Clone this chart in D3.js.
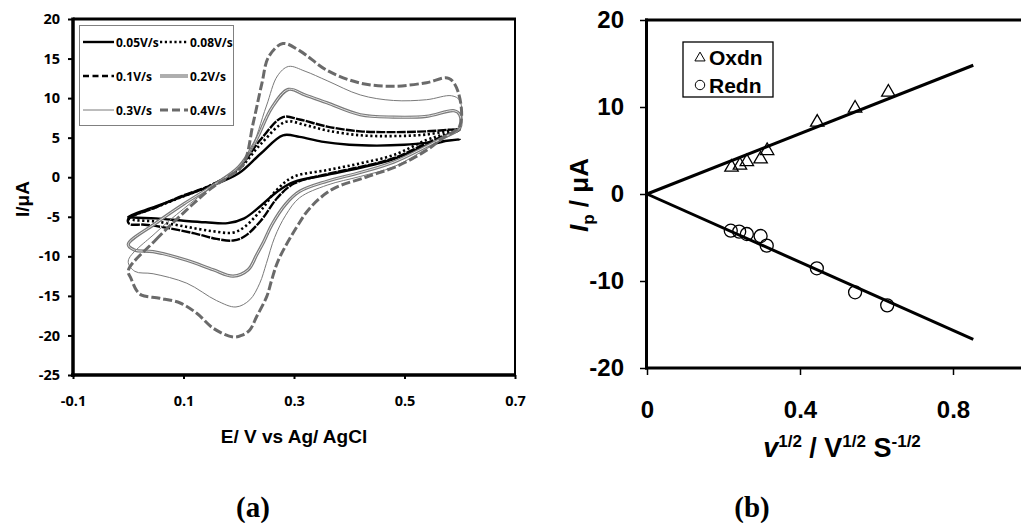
<!DOCTYPE html>
<html><head><meta charset="utf-8">
<script src="https://cdn.jsdelivr.net/npm/d3@7"></script>
<style>
html,body{margin:0;padding:0;background:#fff;}
svg{display:block;}
</style></head><body>
<svg id="fig" width="1021" height="523"></svg>
<script>
// ---------- Panel (a): cyclic voltammograms, [E (V), I (uA)] ----------
const scanRateLabels = ["0.05V/s", "0.08V/s", "0.1V/s", "0.2V/s", "0.3V/s", "0.4V/s"];

const cvForward005 = [[0,-5.0],[0.05,-3.7],[0.1,-2.4],[0.15,-1.1],[0.2,0.5],[0.24,3.0],[0.28,5.3],[0.31,5.1],[0.35,4.5],[0.4,4.1],[0.45,4.0],[0.5,4.1],[0.55,4.4],[0.6,4.8]];
const cvReverse005 = [[0.57,4.5],[0.54,4.0],[0.48,2.3],[0.42,1.2],[0.36,0.3],[0.3,-0.6],[0.27,-1.8],[0.24,-3.6],[0.21,-5.2],[0.18,-5.8],[0.14,-5.7],[0.1,-5.5],[0.05,-5.2],[0.01,-5.1]];

const cvForward008 = [[0,-5.2],[0.05,-3.8],[0.1,-2.4],[0.15,-1.0],[0.2,1.0],[0.24,4.2],[0.285,7.0],[0.32,6.6],[0.36,5.9],[0.42,5.3],[0.48,5.2],[0.54,5.4],[0.6,6.1]];
const cvReverse008 = [[0.57,5.4],[0.54,4.7],[0.48,2.8],[0.42,1.75],[0.36,0.9],[0.3,0.07],[0.27,-1.5],[0.24,-4.2],[0.21,-6.3],[0.19,-7.0],[0.15,-6.8],[0.1,-6.2],[0.05,-5.6],[0.01,-5.4]];

const cvForward010 = [[0,-5.3],[0.05,-3.8],[0.1,-2.3],[0.15,-1.0],[0.2,1.2],[0.24,4.8],[0.28,7.6],[0.31,7.3],[0.36,6.4],[0.42,5.8],[0.48,5.7],[0.54,5.8],[0.6,6.0]];
const cvReverse010 = [[0.57,5.2],[0.54,4.3],[0.48,2.4],[0.42,1.3],[0.36,0.4],[0.3,-0.8],[0.27,-2.6],[0.24,-5.5],[0.21,-7.5],[0.19,-8.0],[0.16,-7.8],[0.12,-7.1],[0.07,-6.4],[0.03,-6.0],[0.002,-5.9]];

const cvForward020 = [[0,-8.5],[0.05,-5.8],[0.1,-3.4],[0.15,-1.2],[0.2,1.3],[0.23,4.5],[0.26,8.8],[0.29,11.1],[0.32,10.4],[0.36,9.4],[0.42,7.9],[0.48,7.6],[0.54,7.7],[0.59,8.4],[0.6,7.9]];
const cvReverse020 = [[0.6,6.2],[0.57,5.0],[0.54,3.9],[0.48,1.9],[0.42,0.6],[0.36,-0.5],[0.31,-1.8],[0.285,-3.4],[0.26,-6.0],[0.245,-8.2],[0.2325,-9.8],[0.217,-11.7],[0.19,-12.5],[0.154,-11.7],[0.106,-10.5],[0.045,-9.4],[0.011,-9.2]];

const cvForward030 = [[0,-10.6],[0.05,-7.0],[0.1,-4.0],[0.15,-1.3],[0.19,0.6],[0.22,3.2],[0.25,9.0],[0.27,12.8],[0.29,14.0],[0.32,13.4],[0.36,12.2],[0.42,10.4],[0.48,9.7],[0.54,9.8],[0.585,10.3],[0.6,9.7]];
const cvReverse030 = [[0.6,6.3],[0.57,4.8],[0.54,3.6],[0.48,1.3],[0.42,0.1],[0.36,-1.0],[0.31,-2.6],[0.285,-4.8],[0.265,-7.6],[0.25,-10.9],[0.238,-13.4],[0.22,-15.5],[0.195,-16.4],[0.16,-15.6],[0.106,-13.4],[0.045,-12.2],[0.012,-11.9]];

const cvForward040 = [[0,-11.8],[0.05,-7.9],[0.1,-4.5],[0.15,-1.4],[0.18,0.0],[0.208,1.6],[0.226,6.8],[0.242,11.9],[0.254,15.2],[0.28,16.9],[0.31,16.0],[0.36,13.5],[0.42,11.9],[0.48,11.5],[0.54,11.95],[0.58,12.5],[0.597,10.8]];
const cvReverse040 = [[0.6,6.5],[0.57,5.0],[0.54,3.4],[0.49,1.5],[0.43,0.0],[0.37,-1.5],[0.33,-3.8],[0.305,-6.3],[0.2716,-10.5],[0.2596,-13.0],[0.2506,-15.1],[0.2325,-17.6],[0.22,-19.3],[0.205,-20.0],[0.19,-20.2],[0.154,-19.1],[0.124,-17.2],[0.094,-15.9],[0.057,-15.3],[0.024,-14.9],[0.015,-14.3],[0.005,-12.8]];

const potentialTicks = [-0.1, 0.1, 0.3, 0.5, 0.7];
const currentTicks = [20, 15, 10, 5, 0, -5, -10, -15, -20, -25];

// ---------- Panel (b): peak current vs square root of scan rate ----------
const oxdnSqrtRate = [0.221, 0.243, 0.261, 0.297, 0.314, 0.445, 0.544, 0.631];
const oxdnPeak     = [3.07, 3.30, 3.71, 4.02, 4.98, 8.24, 9.86, 11.7];
const rednSqrtRate = [0.219, 0.241, 0.261, 0.297, 0.313, 0.444, 0.544, 0.628];
const rednPeak     = [-4.22, -4.33, -4.6, -4.83, -5.94, -8.54, -11.3, -12.8];
const oxdnFit = [[0, 0], [0.853, 14.8]];
const rednFit = [[0, 0], [0.853, -16.7]];
const sqrtRateTicks = [0, 0.4, 0.8];
const peakTicks = [-20, -10, 0, 10, 20];

// ---------- drawing ----------
const svg = d3.select("#fig");
const cvCurves = [
  cvForward005.concat(cvReverse005),
  cvForward008.concat(cvReverse008),
  cvForward010.concat(cvReverse010),
  cvForward020.concat(cvReverse020),
  cvForward030.concat(cvReverse030),
  cvForward040.concat(cvReverse040)
];

const curveStyles = [
  {stroke: "#000", width: 2.4, dash: null, legendDash: null},
  {stroke: "#000", width: 2.6, dash: "2.2,2.6", legendDash: "2.2,2.6"},
  {stroke: "#000", width: 2.4, dash: "9,1.2", legendDash: "6,3.5"},
  {stroke: "#7a7a7a", width: 3.2, dash: null, legendDash: null, inner: "#e2e2e2"},
  {stroke: "#7a7a7a", width: 1, dash: null, legendDash: null},
  {stroke: "#6a6a6a", width: 3, dash: "9,3", legendDash: "8,4"}
];

const tickFont = "'Open Sans', sans-serif";
const titleFont = "'Liberation Sans', Arial, sans-serif";
const serifFont = "'Liberation Serif', 'Times New Roman', serif";

// Panel (a) scales
const xL = d3.scaleLinear().domain([-0.1, 0.7]).range([73, 515]);
const yL = d3.scaleLinear().domain([-25, 20]).range([375, 19]);

svg.append("defs").append("clipPath").attr("id", "clipA")
  .append("rect").attr("x", 73).attr("y", 19).attr("width", 442).attr("height", 356);

const cvLine = d3.line()
  .x(d => xL(d[0])).y(d => yL(d[1]))
  .curve(d3.curveCatmullRomClosed.alpha(0.5));

const gCurves = svg.append("g").attr("clip-path", "url(#clipA)");
cvCurves.forEach((pts, i) => {
  const st = curveStyles[i];
  gCurves.append("path").attr("d", cvLine(pts))
    .attr("fill", "none").attr("stroke", st.stroke).attr("stroke-width", st.width)
    .attr("stroke-dasharray", st.dash).attr("stroke-linejoin", "round");
  if (st.inner) {
    gCurves.append("path").attr("d", cvLine(pts))
      .attr("fill", "none").attr("stroke", st.inner).attr("stroke-width", 1);
  }
});

// Panel (a) axes
const axLx = svg.append("g").attr("transform", "translate(0,375)")
  .call(d3.axisBottom(xL).tickValues(potentialTicks).tickSize(4).tickPadding(17).tickFormat(d => String(d)));
const axLy = svg.append("g").attr("transform", "translate(73,0)")
  .call(d3.axisLeft(yL).tickValues(currentTicks).tickSize(5).tickPadding(8).tickFormat(d => String(d)));
[axLx, axLy].forEach(g => {
  g.select(".domain").remove();
  g.selectAll(".tick line").attr("stroke", "#000").attr("stroke-width", 2);
  g.selectAll("text").attr("fill", "#000").style("font-family", tickFont)
    .style("font-weight", "700").style("font-size", "14.5px");
});

// Panel (a) frame
const frameA = svg.append("g").attr("stroke", "#000").attr("fill", "none");
frameA.append("line").attr("x1", 73).attr("x2", 73).attr("y1", 17.5).attr("y2", 377).attr("stroke-width", 3.5);
frameA.append("line").attr("x1", 71).attr("x2", 516).attr("y1", 375).attr("y2", 375).attr("stroke-width", 3.5);
frameA.append("line").attr("x1", 73).attr("x2", 516).attr("y1", 19).attr("y2", 19).attr("stroke-width", 3);
frameA.append("line").attr("x1", 515).attr("x2", 515).attr("y1", 19).attr("y2", 376).attr("stroke-width", 2);

// Panel (a) legend
const legA = svg.append("g");
legA.append("rect").attr("x", 79.5).attr("y", 25.5).attr("width", 154).attr("height", 100)
  .attr("fill", "#fff").attr("stroke", "#808080").attr("stroke-width", 1);
const legCols = [{x0: 83, x1: 114, tx: 116}, {x0: 160, x1: 188, tx: 190}];
const legRows = [42, 76, 110];
scanRateLabels.forEach((lab, i) => {
  const col = legCols[i % 2], y = legRows[Math.floor(i / 2)], st = curveStyles[i];
  legA.append("line").attr("x1", col.x0).attr("x2", col.x1).attr("y1", y).attr("y2", y)
    .attr("stroke", st.stroke).attr("stroke-width", st.width).attr("stroke-dasharray", st.legendDash);
  if (st.inner) {
    legA.append("line").attr("x1", col.x0).attr("x2", col.x1).attr("y1", y).attr("y2", y)
      .attr("stroke", st.inner).attr("stroke-width", 1);
  }
  legA.append("text").attr("x", col.tx).attr("y", y + 4.5).text(lab)
    .style("font-family", tickFont).style("font-weight", "700").style("font-size", "12px");
});

// Panel (a) titles
svg.append("text").attr("transform", "translate(29,199) rotate(-90)").attr("text-anchor", "middle")
  .style("font-family", titleFont).style("font-weight", "700").style("font-size", "19px").text("I/\u03bcA");
svg.append("text").attr("x", 294).attr("y", 443).attr("text-anchor", "middle")
  .style("font-family", titleFont).style("font-weight", "700").style("font-size", "19px").text("E/ V vs Ag/ AgCl");
svg.append("text").attr("x", 253).attr("y", 517).attr("text-anchor", "middle")
  .style("font-family", serifFont).style("font-weight", "700").style("font-size", "29px").text("(a)");

// Panel (b) scales
const xR = d3.scaleLinear().domain([0, 1]).range([647, 1029.5]);
const yR = d3.scaleLinear().domain([-20, 20]).range([368, 20]);

const axRx = svg.append("g").attr("transform", "translate(0,368)")
  .call(d3.axisBottom(xR).tickValues(sqrtRateTicks).tickSize(7).tickPadding(26).tickFormat(d => String(d)));
const axRy = svg.append("g").attr("transform", "translate(647,0)")
  .call(d3.axisLeft(yR).tickValues(peakTicks).tickSize(7).tickPadding(16).tickFormat(d => String(d)));
[axRx, axRy].forEach(g => {
  g.select(".domain").remove();
  g.selectAll(".tick line").attr("stroke", "#000").attr("stroke-width", 1.5);
  g.selectAll("text").attr("fill", "#000").style("font-family", titleFont)
    .style("font-weight", "700").style("font-size", "24px");
});

const frameB = svg.append("g").attr("stroke", "#000").attr("fill", "none").attr("stroke-width", 3);
frameB.append("line").attr("x1", 646.5).attr("x2", 646.5).attr("y1", 18.5).attr("y2", 369.5);
frameB.append("line").attr("x1", 645).attr("x2", 1021).attr("y1", 368).attr("y2", 368);
frameB.append("line").attr("x1", 645).attr("x2", 1021).attr("y1", 20).attr("y2", 20);

// fit lines
const fitLine = d3.line().x(d => xR(d[0])).y(d => yR(d[1]));
[oxdnFit, rednFit].forEach(f => {
  svg.append("path").attr("d", fitLine(f)).attr("fill", "none").attr("stroke", "#000").attr("stroke-width", 3);
});

// markers
const triSym = d3.symbol().type(d3.symbolTriangle).size(78);
const cirSym = d3.symbol().type(d3.symbolCircle).size(133);
svg.append("g").selectAll("path").data(oxdnSqrtRate).join("path")
  .attr("d", triSym).attr("transform", (d, i) => `translate(${xR(d)},${yR(oxdnPeak[i])})`)
  .attr("fill", "none").attr("stroke", "#000").attr("stroke-width", 1.3);
svg.append("g").selectAll("path").data(rednSqrtRate).join("path")
  .attr("d", cirSym).attr("transform", (d, i) => `translate(${xR(d)},${yR(rednPeak[i])})`)
  .attr("fill", "none").attr("stroke", "#000").attr("stroke-width", 1.3);

// Panel (b) legend
const legB = svg.append("g");
legB.append("rect").attr("x", 683).attr("y", 42).attr("width", 90).attr("height", 55)
  .attr("fill", "#fff").attr("stroke", "#000").attr("stroke-width", 1.3);
legB.append("path").attr("d", d3.symbol().type(d3.symbolTriangle).size(45)())
  .attr("transform", "translate(700,58)").attr("fill", "none").attr("stroke", "#000").attr("stroke-width", 1);
legB.append("path").attr("d", d3.symbol().type(d3.symbolCircle).size(70)())
  .attr("transform", "translate(700,85)").attr("fill", "none").attr("stroke", "#000").attr("stroke-width", 1);
[["Oxdn", 65], ["Redn", 93]].forEach(([t, y]) => {
  legB.append("text").attr("x", 709).attr("y", y).text(t)
    .style("font-family", titleFont).style("font-weight", "700").style("font-size", "21px");
});

// Panel (b) titles
const yTitle = svg.append("text").attr("transform", "translate(588,195) rotate(-90)").attr("text-anchor", "middle")
  .style("font-family", titleFont).style("font-weight", "700").style("font-size", "26px");
yTitle.append("tspan").style("font-style", "italic").text("I");
yTitle.append("tspan").attr("dy", 6).style("font-size", "17px").text("p");
yTitle.append("tspan").attr("dy", -6).text(" / \u03bcA");

const xTitle = svg.append("text").attr("x", 842).attr("y", 457).attr("text-anchor", "middle")
  .style("font-family", titleFont).style("font-weight", "700").style("font-size", "27px");
xTitle.append("tspan").style("font-style", "italic").text("v");
xTitle.append("tspan").attr("dy", -10).style("font-size", "17px").text("1/2");
xTitle.append("tspan").attr("dy", 10).text(" / V");
xTitle.append("tspan").attr("dy", -10).style("font-size", "17px").text("1/2");
xTitle.append("tspan").attr("dy", 10).text(" S");
xTitle.append("tspan").attr("dy", -10).style("font-size", "17px").text("-1/2");

svg.append("text").attr("x", 752).attr("y", 517).attr("text-anchor", "middle")
  .style("font-family", serifFont).style("font-weight", "700").style("font-size", "29px").text("(b)");
</script>
</body></html>
